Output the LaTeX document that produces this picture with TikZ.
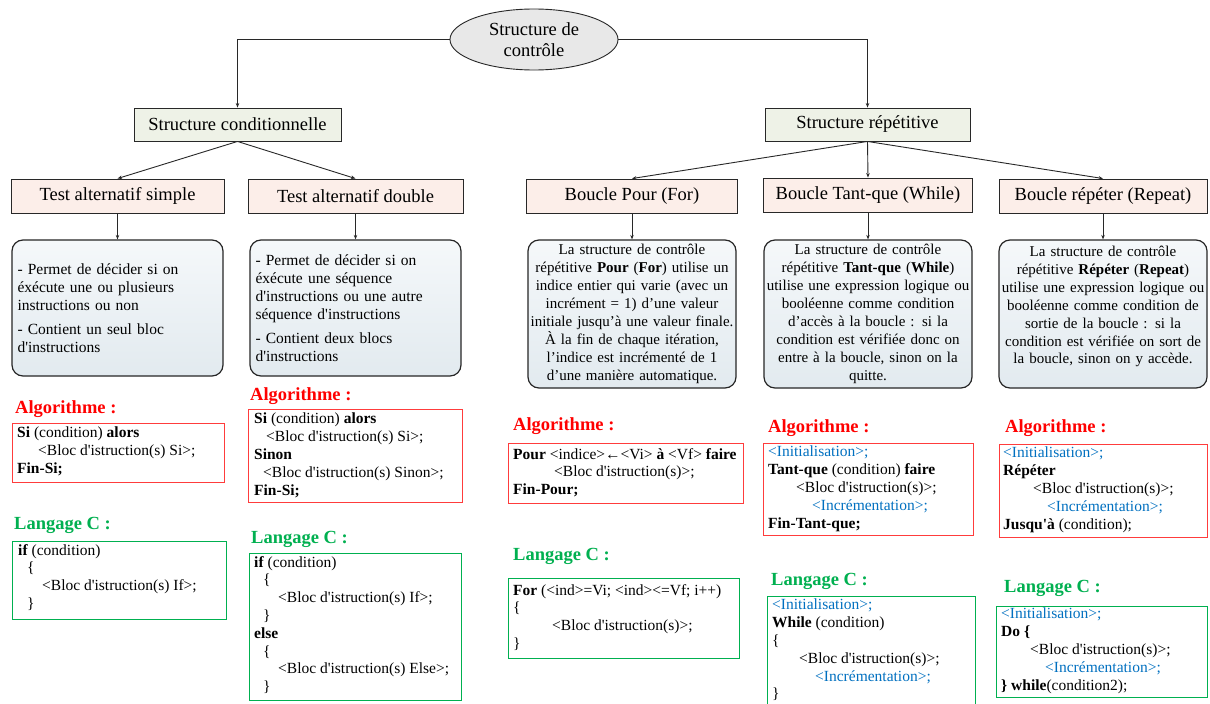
\documentclass[tikz,border=0pt]{standalone}
\usepackage{fontspec}
\setmainfont{Liberation Serif}
\usetikzlibrary{arrows.meta,shapes.geometric}
\definecolor{redc}{RGB}{255,0,0}
\definecolor{redb}{RGB}{255,60,60}
\definecolor{greenc}{RGB}{0,176,80}
\definecolor{bluec}{RGB}{0,112,192}
\definecolor{pinkf}{RGB}{252,238,233}
\definecolor{olivef}{RGB}{238,242,231}
\definecolor{grayf}{RGB}{232,232,232}
\definecolor{boxtop}{RGB}{245,248,250}
\definecolor{boxbot}{RGB}{226,234,239}
\definecolor{edge}{RGB}{40,40,40}
\newcommand{\ap}{\textquotesingle}
\begin{document}
\begin{tikzpicture}[x=1pt,y=-1pt,
  arr/.style={draw=edge, line width=0.9pt, -{Stealth[length=4.5pt,width=3.5pt]}},
  lbl/.style={font=\fontsize{18.5}{21}\selectfont},
  head/.style={lbl, draw=edge, line width=0.9pt, fill=olivef, minimum height=33pt, inner sep=0pt},
  sub/.style={lbl, draw=edge, line width=0.9pt, fill=pinkf, minimum height=34pt, inner sep=0pt},
  desc/.style={draw=black!85, line width=1.2pt, rounded corners=11pt, top color=boxtop, bottom color=boxbot, inner sep=0pt},
  descl/.style={desc, minimum width=211pt, minimum height=136pt, text width=200pt, align=left, font=\fontsize{15.5}{18}\selectfont},
  descc/.style={desc, minimum width=208pt, minimum height=148pt, text width=206pt, align=center, font=\fontsize{15}{17.9}\selectfont},
  algo/.style={draw=redb, line width=1.2pt, inner sep=0pt, anchor=north west},
  ccode/.style={draw=greenc, line width=1.2pt, inner sep=0pt, anchor=north west},
  algolab/.style={text=redc, font=\bfseries\fontsize{18.5}{21}\selectfont, anchor=base west, inner sep=0pt},
  clab/.style={text=greenc, font=\bfseries\fontsize{18.5}{21}\selectfont, anchor=base west, inner sep=0pt},
  codetxt/.style={anchor=north west, inner sep=0pt, align=left, font=\fontsize{15.5}{17.8}\selectfont},
]
\useasboundingbox (0,0) rectangle (1210,704);
\fill[white] (0,0) rectangle (1210,704);

% top
\node[ellipse, draw=edge, line width=0.9pt, fill=grayf, minimum width=168pt, minimum height=61pt, inner sep=0pt, align=center, lbl] (ctl) at (534,39.5) {Structure de\\contrôle};
\node[head, minimum width=207pt] (cond) at (237.5,124.5) {Structure conditionnelle};
\node[head, minimum width=205pt] (rep) at (867.5,124.5) {Structure répétitive};

\node[sub, minimum width=213pt] (tas) at (117.5,196) {Test alternatif simple};
\node[sub, minimum width=215pt] (tad) at (355.5,196) {Test alternatif double};
\node[sub, minimum width=211pt] (pour) at (632,196) {Boucle Pour (For)};
\node[sub, minimum width=209pt] (tq) at (868,195) {Boucle Tant-que (While)};
\node[sub, minimum width=208pt] (rp) at (1103,196) {Boucle répéter (Repeat)};

\draw[arr] (ctl.west) -| (cond.north);
\draw[arr] (ctl.east) -| (rep.north);
\draw[arr] (cond.south) -- (tas.north);
\draw[arr] (cond.south) -- (tad.north);
\draw[arr] (rep.south) -- (pour.north);
\draw[arr] (rep.south) -- (tq.north);
\draw[arr] (rep.south) -- (rp.north);

% descriptions
\node[descl] (d1) at (117.5,308) {- Permet de décider si on\\ éxécute une ou plusieurs\\ instructions ou non\\[6pt] - Contient un seul bloc\\ d\ap instructions};
\node[descl] (d2) at (355.5,308) {- Permet de décider si on\\ éxécute une séquence\\ d\ap instructions ou une autre\\ séquence d\ap instructions\\[6pt] - Contient deux blocs\\ d\ap instructions};
\node[descc] (d3) at (632,314) {La structure de contrôle\\ répétitive \textbf{Pour} (\textbf{For}) utilise un\\ indice entier qui varie (avec un\\ incrément = 1) d’une valeur\\ initiale jusqu’à une valeur finale.\\ À la fin de chaque itération,\\ l’indice est incrémenté de 1\\ d’une manière automatique.};
\node[descc] (d4) at (868,314) {La structure de contrôle\\ répétitive \textbf{Tant-que} (\textbf{While})\\ utilise une expression logique ou\\ booléenne comme condition\\ d’accès à la boucle : si la\\ condition est vérifiée donc on\\ entre à la boucle, sinon on la\\ quitte.};
\node[descc] (d5) at (1103,314) {La structure de contrôle\\ répétitive \textbf{Répéter} (\textbf{Repeat})\\ utilise une expression logique ou\\ booléenne comme condition de\\ sortie de la boucle : si la\\ condition est vérifiée on sort de\\ la boucle, sinon on y accède.\\ \mbox{}};

\draw[arr] (tas.south) -- (d1.north);
\draw[arr] (tad.south) -- (d2.north);
\draw[arr] (pour.south) -- (d3.north);
\draw[arr] (tq.south) -- (d4.north);
\draw[arr] (rp.south) -- (d5.north);

% column 1
\node[algolab] (al1) at (15,413) {Algorithme :};
\node[algo, minimum width=212pt, minimum height=59pt] (ab1) at (12,423) {};
\node[codetxt] (at1) at (17,427) {\textbf{Si} (condition) \textbf{alors}\\
\hspace*{21pt}<Bloc d\ap istruction(s) Si>;\\
\textbf{Fin-Si;}};
\node[clab] (cl1) at (14,529) {Langage C :};
\node[ccode, minimum width=214pt, minimum height=78pt] (cb1) at (12,541) {};
\node[codetxt] (ct1) at (18,544) {\textbf{if} (condition)\\
\hspace*{9pt}\{\\
\hspace*{24pt}<Bloc d\ap istruction(s) If>;\\
\hspace*{9pt}\}};

% column 2
\node[algolab] (al2) at (250,400) {Algorithme :};
\node[algo, minimum width=214pt, minimum height=93pt] (ab2) at (248,409) {};
\node[codetxt] (at2) at (254,413) {\textbf{Si} (condition) \textbf{alors}\\
\hspace*{12pt}<Bloc d\ap istruction(s) Si>;\\
\textbf{Sinon}\\
\hspace*{9pt}<Bloc d\ap istruction(s) Sinon>;\\
\textbf{Fin-Si;}};
\node[clab] (cl2) at (251,543) {Langage C :};
\node[ccode, minimum width=212pt, minimum height=147pt] (cb2) at (249,553) {};
\node[codetxt] (ct2) at (254,556) {\textbf{if} (condition)\\
\hspace*{9pt}\{\\
\hspace*{24pt}<Bloc d\ap istruction(s) If>;\\
\hspace*{9pt}\}\\
\textbf{else}\\
\hspace*{9pt}\{\\
\hspace*{24pt}<Bloc d\ap istruction(s) Else>;\\
\hspace*{9pt}\}};

% column 3
\node[algolab] (al3) at (513,430) {Algorithme :};
\node[algo, minimum width=235pt, minimum height=60pt] (ab3) at (508,443) {};
\node[codetxt] (at3) at (513,448) {\textbf{Pour} <indice>\textbf{←}<Vi> \textbf{à} <Vf> \textbf{faire}\\
\hspace*{41pt}<Bloc d\ap istruction(s)>;\\
\textbf{Fin-Pour;}};
\node[clab] (cl3) at (513,560) {Langage C :};
\node[ccode, minimum width=231pt, minimum height=80pt] (cb3) at (508,578) {};
\node[codetxt] (ct3) at (513,584) {\textbf{For} (<ind>=Vi; <ind><=Vf; i++)\\
\{\\
\hspace*{39pt}<Bloc d\ap istruction(s)>;\\
\}};

% column 4
\node[algolab] (al4) at (768,432) {Algorithme :};
\node[algo, minimum width=210pt, minimum height=92pt] (ab4) at (763,443) {};
\node[codetxt] (at4) at (768,446) {\textcolor{bluec}{<Initialisation>;}\\
\textbf{Tant-que} (condition) \textbf{faire}\\
\hspace*{28pt}<Bloc d\ap istruction(s)>;\\
\hspace*{44pt}\textcolor{bluec}{<Incrémentation>;}\\
\textbf{Fin-Tant-que;}};
\node[clab] (cl4) at (771,585) {Langage C :};
\node[ccode, minimum width=208pt, minimum height=116pt] (cb4) at (767,596) {};
\node[codetxt] (ct4) at (772,599) {\textcolor{bluec}{<Initialisation>;}\\
\textbf{While} (condition)\\
\{\\
\hspace*{27pt}<Bloc d\ap istruction(s)>;\\
\hspace*{43pt}\textcolor{bluec}{<Incrémentation>;}\\
\}};

% column 5
\node[algolab] (al5) at (1005,432) {Algorithme :};
\node[algo, minimum width=208pt, minimum height=93pt] (ab5) at (999,444) {};
\node[codetxt] (at5) at (1003,447) {\textcolor{bluec}{<Initialisation>;}\\
\textbf{Répéter}\\
\hspace*{30pt}<Bloc d\ap istruction(s)>;\\
\hspace*{44pt}\textcolor{bluec}{<Incrémentation>;}\\
\textbf{Jusqu\ap à} (condition);};
\node[clab] (cl5) at (1004,592) {Langage C :};
\node[ccode, minimum width=211pt, minimum height=91pt] (cb5) at (996,606) {};
\node[codetxt] (ct5) at (1001,608) {\textcolor{bluec}{<Initialisation>;}\\
\textbf{Do \{}\\
\hspace*{29pt}<Bloc d\ap istruction(s)>;\\
\hspace*{44pt}\textcolor{bluec}{<Incrémentation>;}\\
\textbf{\}} \textbf{while}(condition2);};
\end{tikzpicture}
\end{document}
